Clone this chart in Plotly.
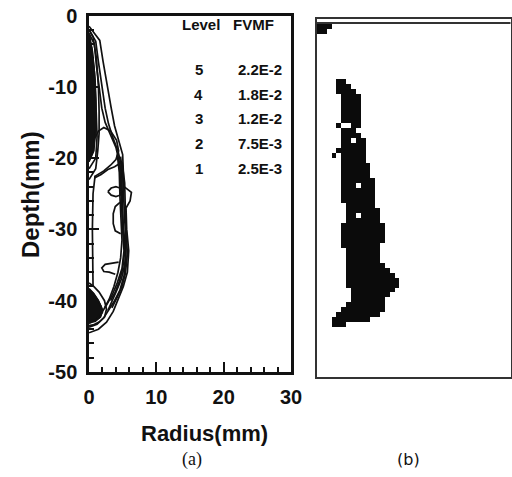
import numpy as np
import plotly.graph_objects as go

W, H = 512, 477

# ---------------- panel (a): contour lines (radius mm, depth mm) -------------
c1_r = [0.0, 0.6, 1.6, 2.1, 2.7, 3.3, 3.8, 4.5, 5.0, 5.1, 5.2, 6.3, 6.1, 5.5, 5.6, 5.9, 5.7, 5.1, 4.3, 3.6, 2.6, 1.4, 0.0]
c1_d = [-1.5, -2.2, -3.5, -6.5, -10.0, -13.0, -15.5, -17.8, -19.5, -22.0, -24.0, -24.8, -26.0, -27.0, -30.0, -33.0, -36.0, -38.0, -40.0, -41.5, -43.0, -44.0, -44.5]
c2_r = [0.0, 1.0, 1.4, 1.9, 2.4, 2.9, 3.5, 4.3, 4.8, 4.9, 5.0, 5.1, 5.4, 5.5, 5.2, 4.6, 3.8, 3.0, 2.2, 1.2, 0.0]
c2_d = [-2.0, -3.6, -6.5, -10.0, -13.0, -15.2, -17.0, -19.0, -21.0, -24.0, -27.0, -30.0, -32.0, -34.0, -36.5, -38.5, -40.0, -41.2, -42.4, -43.3, -43.7]
c3_r = [0.0, 0.8, 1.1, 1.5, 1.9, 2.4, 3.0, 4.0, 4.6, 4.7, 4.8, 5.0, 5.2, 4.9, 4.2, 3.4, 2.6, 1.8, 0.9, 0.0]
c3_d = [-2.5, -4.0, -7.0, -10.0, -13.0, -15.0, -16.3, -18.5, -21.0, -24.0, -27.0, -30.0, -33.0, -35.5, -37.5, -39.3, -40.6, -41.8, -42.8, -43.2]
c4_r = [4.2, 4.5, 4.6, 4.7, 4.9, 4.7, 4.3, 3.7, 3.0, 2.3]
c4_d = [-19.5, -22.0, -25.5, -28.5, -31.5, -34.0, -36.0, -38.0, -39.8, -41.0]
c5_r = [4.5, 4.8, 4.9, 5.1, 5.3, 5.0, 4.5, 3.9, 3.2]
c5_d = [-20.5, -23.0, -27.0, -30.5, -33.0, -35.5, -37.3, -38.8, -40.0]
c7_r = [4.7, 5.0, 5.2, 5.3, 5.5, 5.3, 4.8, 4.1, 3.5, 2.8]
c7_d = [-19.8, -22.5, -26.5, -29.5, -32.5, -35.0, -37.0, -38.6, -40.0, -41.4]
c8_r = [4.9, 5.3, 5.4, 5.5, 5.7, 5.4, 4.9, 4.2, 3.4]
c8_d = [-20.5, -23.5, -27.5, -30.5, -33.5, -36.2, -38.0, -39.5, -41.0]
c6_r = [4.6, 3.9, 3.6, 3.6, 3.9, 4.7]
c6_d = [-26.2, -26.8, -27.8, -29.2, -30.2, -30.6]
loop_r = [0.9, 1.4, 2.2, 3.2, 4.1, 4.4, 4.0, 3.2, 2.2, 1.2, 0.8]
loop_d = [-17.2, -16.2, -15.7, -16.2, -17.5, -19.0, -20.2, -21.0, -21.8, -22.4, -22.6]
arc_r = [0.8, 1.8, 2.8, 3.8, 4.5]
arc_d = [-22.8, -22.3, -21.6, -21.2, -20.8]
eye_r = [2.8, 3.3, 4.0, 4.6, 4.8, 4.6, 4.0, 3.3, 2.8]
eye_d = [-24.7, -24.2, -24.0, -24.2, -24.7, -25.2, -25.4, -25.2, -24.7]
knot_r = [4.4, 3.4, 2.4, 1.9, 2.2, 3.0, 3.9]
knot_d = [-34.6, -34.7, -34.9, -35.4, -35.9, -36.0, -36.3]
n1_r = [0.0, 0.6, 1.1, 1.4, 1.5, 1.5, 1.3, 1.0, 0.0]
n1_d = [-2.0, -3.0, -6.0, -10.0, -13.5, -16.5, -19.0, -21.5, -23.0]
n2_r = [0.0, 0.5, 0.9, 1.1, 1.2, 1.0, 0.0]
n2_d = [-3.0, -5.0, -9.0, -13.0, -17.0, -20.0, -21.5]
n3_r = [0.0, 0.4, 0.8, 1.0, 1.0, 0.7, 0.0]
n3_d = [-2.5, -4.5, -8.0, -12.0, -16.0, -19.0, -20.5]
v1_r = [0.9, 0.6, 0.5, 0.5, 0.6]
v1_d = [-22.5, -25.0, -30.0, -35.0, -38.0]
b1_r = [0.0, 0.7, 1.5, 2.3, 2.6, 2.3, 1.5, 0.6, 0.0]
b1_d = [-37.5, -38.0, -38.8, -40.0, -41.2, -42.3, -43.0, -43.4, -43.5]
b2_r = [0.0, 0.6, 1.2, 1.8, 2.0, 1.6, 0.9, 0.0]
b2_d = [-38.5, -39.0, -39.8, -40.8, -41.6, -42.3, -42.7, -42.9]
b3_r = [0.0, 0.7, 1.4, 2.0, 1.7, 0.9, 0.0]
b3_d = [-38.3, -39.0, -40.0, -41.3, -42.3, -42.9, -43.0]

contour_lines = [(c1_r, c1_d), (c2_r, c2_d), (c3_r, c3_d), (c4_r, c4_d), (c5_r, c5_d),
                 (c7_r, c7_d), (c8_r, c8_d),
                 (c6_r, c6_d), (loop_r, loop_d), (arc_r, arc_d), (eye_r, eye_d),
                 (knot_r, knot_d), (n1_r, n1_d), (n2_r, n2_d), (n3_r, n3_d),
                 (v1_r, v1_d), (b1_r, b1_d), (b2_r, b2_d), (b3_r, b3_d)]
filled_shapes = [(n3_r, n3_d), (b3_r, b3_d)]

levels = ["5", "4", "3", "2", "1"]
fvmf = ["2.2E-2", "1.8E-2", "1.2E-2", "7.5E-3", "2.5E-3"]
legend_depth = [-7.6, -11.1, -14.5, -18.0, -21.4]

x_ticks = [0, 10, 20, 30]
x_labels = ["0", "10", "20", "30"]
y_ticks = [0, -10, -20, -30, -40, -50]
y_labels = ["0", "-10", "-20", "-30", "-40", "-50"]

# ---------------- panel (b): thresholded image, rows -> (first col, last col) --
n_rows, n_cols = 72, 40
blob_rows = [1, 2, 12, 13, 14, 15, 16, 17, 18, 19, 20, 21, 22, 23, 24, 25, 26, 27, 28, 29, 30,
             31, 32, 33, 34, 35, 36, 37, 38, 39, 40, 41, 42, 43, 44, 45, 46, 47, 48, 49, 50,
             51, 52, 53, 54, 55, 56, 57, 58, 59, 60, 61]
blob_left = [0, 0, 4, 4, 4, 5, 5, 5, 5, 5, 5, 7, 5, 5, 5, 5, 4, 5, 5, 5, 5,
             5, 5, 5, 5, 5, 5, 6, 6, 6, 6, 5, 5, 5, 5, 5, 6, 6, 6, 6, 6,
             6, 6, 6, 7, 7, 7, 6, 5, 4, 3, 3]
blob_right = [2, 1, 5, 6, 7, 8, 8, 8, 8, 8, 8, 8, 7, 8, 9, 9, 9, 9, 9, 10, 10,
              10, 11, 11, 11, 11, 11, 11, 12, 12, 12, 13, 13, 13, 13, 12, 12, 12, 12, 13, 14,
              15, 16, 16, 15, 14, 13, 13, 13, 12, 10, 5]
speck_rows = [27, 21]
speck_cols = [3, 4]
hole_rows = [24, 33, 39]
hole_cols = [7, 8, 8]

z = np.zeros((n_rows, n_cols))
for r, c0, c1 in zip(blob_rows, blob_left, blob_right):
    z[r, c0:c1 + 1] = 1
for r, c in zip(speck_rows, speck_cols):
    z[r, c] = 1
for r, c in zip(hole_rows, hole_cols):
    z[r, c] = 0

fig = go.Figure()

for rr, dd in filled_shapes:
    fig.add_trace(go.Scatter(x=rr, y=dd, mode="lines", fill="toself", fillcolor="#111",
                             line=dict(color="#111", width=1), hoverinfo="skip",
                             showlegend=False, xaxis="x", yaxis="y"))
for rr, dd in contour_lines:
    fig.add_trace(go.Scatter(x=rr, y=dd, mode="lines", line=dict(color="#111", width=1.7),
                             showlegend=False, xaxis="x", yaxis="y"))

fig.add_trace(go.Heatmap(z=z, x=np.arange(n_cols) + 0.5, y=np.arange(n_rows) + 0.5,
                         colorscale=[[0, "rgba(255,255,255,0)"], [1, "#0b0b0b"]],
                         zmin=0, zmax=1, showscale=False, xaxis="x2", yaxis="y2",
                         hoverinfo="skip"))

tick_font = dict(family="Liberation Sans", size=20, color="#111", weight="bold")
fig.update_layout(
    width=W, height=H, margin=dict(l=0, r=0, t=0, b=0),
    paper_bgcolor="white", plot_bgcolor="white", showlegend=False,
    xaxis=dict(domain=[89 / W, 291 / W], range=[0, 30], tickvals=x_ticks, ticktext=x_labels,
               ticks="inside", ticklen=10, tickwidth=2, tickcolor="#111", ticklabelstandoff=5,
               minor=dict(dtick=2, ticks="inside", ticklen=5, tickwidth=1.5, tickcolor="#111"),
               showline=True, linewidth=2.5, linecolor="#111", mirror=True,
               showgrid=False, zeroline=False, tickfont=tick_font, automargin=False),
    yaxis=dict(domain=[(H - 372) / H, (H - 15.5) / H], range=[-50, 0], tickvals=y_ticks,
               ticktext=y_labels, ticklabelstandoff=5,
               ticks="inside", ticklen=10, tickwidth=2, tickcolor="#111",
               minor=dict(dtick=2, ticks="inside", ticklen=5, tickwidth=1.5, tickcolor="#111"),
               showline=True, linewidth=2.5, linecolor="#111", mirror=True,
               showgrid=False, zeroline=False, tickfont=tick_font, automargin=False),
    xaxis2=dict(domain=[317 / W, 510.5 / W], range=[0, n_cols], showticklabels=False,
                ticks="", showline=True, linewidth=1.5, linecolor="#333", mirror=True,
                showgrid=False, zeroline=False, anchor="y2"),
    yaxis2=dict(domain=[(H - 377) / H, (H - 19) / H], range=[n_rows, 0], showticklabels=False,
                ticks="", showline=True, linewidth=1.5, linecolor="#333", mirror=True,
                showgrid=False, zeroline=False, anchor="x2"),
)

# second (double) line at the top of panel (b)
fig.add_shape(type="line", xref="x2 domain", yref="y2", x0=0, x1=1, y0=0.8, y1=0.8,
              line=dict(color="#333", width=2))

leg_font = dict(family="Liberation Sans", size=15, color="#111", weight="bold")
ann = []
ann.append(dict(text="Level", x=16.7, y=-1.3, xref="x", yref="y", showarrow=False, font=leg_font))
ann.append(dict(text="FVMF", x=24.5, y=-1.3, xref="x", yref="y", showarrow=False, font=leg_font))
for lv, fv, dd in zip(levels, fvmf, legend_depth):
    ann.append(dict(text=lv, x=16.3, y=dd, xref="x", yref="y", showarrow=False, font=leg_font))
    ann.append(dict(text=fv, x=25.4, y=dd, xref="x", yref="y", showarrow=False, font=leg_font))
ann.append(dict(text="Depth(mm)", x=30 / W, y=(H - 195) / H, xref="paper", yref="paper",
                xanchor="center", yanchor="middle", textangle=-90, showarrow=False,
                font=dict(family="Liberation Sans", size=24, color="#111", weight="bold")))
ann.append(dict(text="Radius(mm)", x=204 / W, y=(H - 433) / H, xref="paper", yref="paper",
                xanchor="center", yanchor="middle", showarrow=False,
                font=dict(family="Liberation Sans", size=22, color="#111", weight="bold")))
ann.append(dict(text="(a)", x=192 / W, y=(H - 459) / H, xref="paper", yref="paper",
                xanchor="center", yanchor="middle",
                showarrow=False, font=dict(family="Liberation Serif", size=18, color="#111")))
ann.append(dict(text="(b)", x=408 / W, y=(H - 459) / H, xref="paper", yref="paper",
                xanchor="center", yanchor="middle",
                showarrow=False, font=dict(family="DejaVu Sans", size=16, color="#111")))
fig.update_layout(annotations=ann)

fig.write_html("out.html", config={"displayModeBar": False},
               post_script="document.body.style.margin='0';document.body.style.overflow='hidden';")
